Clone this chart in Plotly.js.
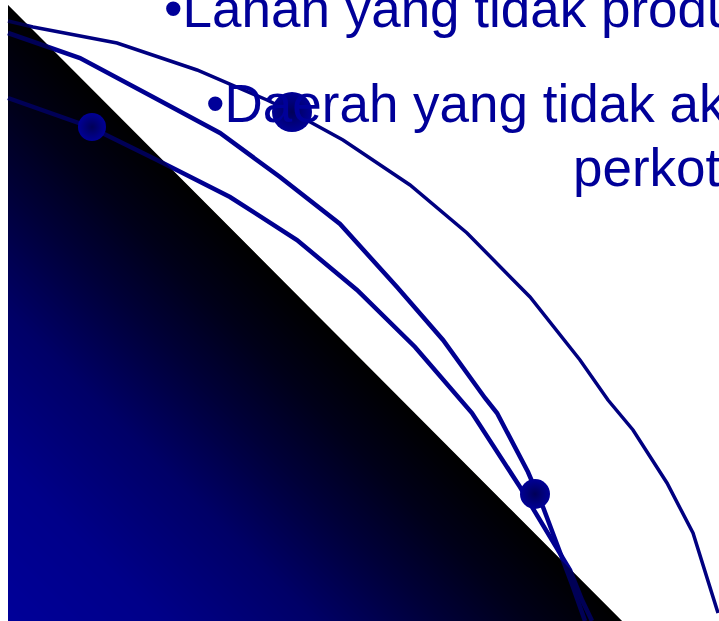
<!DOCTYPE html>
<html>
<head>
<meta charset="utf-8">
<script src="https://cdn.plot.ly/plotly-3.0.1.min.js"></script>
<style>html,body{margin:0;padding:0;background:#fff;overflow:hidden}#chart{width:719px;height:621px}</style>
</head>
<body>
<div id="chart"></div>
<script>
// Curves (x, y in picture units: y grows downward)
const curveAx = [8, 33, 117, 197, 267, 292, 343, 410, 467, 530, 580, 608, 633, 667, 693, 718];
const curveAy = [21, 27, 43, 70, 100, 112, 140, 185, 233, 297, 360, 400, 430, 483, 533, 613];
const curveBx = [8, 50, 80, 153, 220, 280, 340, 397, 443, 485, 497, 528, 543, 573, 585];
const curveBy = [33, 48, 58, 97, 133, 177, 224, 287, 340, 398, 413, 472, 507, 587, 621];
const curveCx = [8, 90, 157, 230, 297, 357, 415, 460, 472, 520, 540, 570, 582, 592];
const curveCy = [98, 127, 160, 197, 240, 290, 347, 398, 413, 487, 520, 570, 600, 621];
// Spheres
const ballX = [92, 292, 535];
const ballY = [127, 112, 494];
const ballD = [28, 40, 30];
// Triangle (gradient wedge)
const triX = [8, 622, 8];
const triY = [5, 621, 621];
// Texts
const texts = ["\u2022Lahan yang tidak produ", "\u2022Daerah yang tidak ak", "perkot"];
const textX = [162, 204, 571];
const textY = [8, 103, 167];

const W = 719, H = 621;
const navy = '#000090';

// mask: everything outside the triangle
const maskX = [0, W, W, triX[1], triX[0], triX[2], 0, 0];
const maskY = [0, 0, H, triY[1], triY[0], triY[2], H, 0];

const traces = [
  { type: 'heatmap', x: [triX[0], triX[1]], y: [triY[0], triY[2]],
    z: [[0, -1], [1, 0]], zmin: 0, zmax: 1, zsmooth: 'best', showscale: false, hoverinfo: 'skip',
    colorscale: [[0, 'rgb(0,0,0)'], [0.15, 'rgb(0,0,42)'], [0.3, 'rgb(0,0,95)'], [0.5, 'rgb(0,0,172)'], [0.75, 'rgb(0,0,228)'], [1, 'rgb(0,0,255)']] },
  { type: 'scatter', mode: 'lines', x: maskX, y: maskY, fill: 'toself', fillcolor: '#ffffff',
    line: { width: 0, color: 'rgba(0,0,0,0)' }, hoverinfo: 'skip' },
  { type: 'scatter', mode: 'lines', x: curveAx, y: curveAy, line: { color: '#000080', width: 3.5 } },
  { type: 'scatter', mode: 'lines', x: curveBx, y: curveBy, line: { color: navy, width: 4.5 } },
  { type: 'scatter', mode: 'lines', x: curveCx, y: curveCy, line: { color: navy, width: 4.5 } },
  { type: 'scatter', mode: 'lines', x: triX.concat([triX[0]]), y: triY.concat([triY[0]]), fill: 'toself',
    fillcolor: 'rgba(0,0,0,0.4)', line: { width: 0, color: 'rgba(0,0,0,0)' }, xaxis: 'x2', yaxis: 'y2', hoverinfo: 'skip' },
  { type: 'scatter', mode: 'markers', x: ballX, y: ballY, xaxis: 'x2', yaxis: 'y2',
    marker: { size: ballD, opacity: 1, color: '#000096', line: { width: 0 }, gradient: { type: 'radial', color: '#000058' } } }
];

const ax = { range: [0, W], visible: false, fixedrange: true };
const ay = { range: [H, 0], visible: false, fixedrange: true };
const layout = {
  width: W, height: H, margin: { l: 0, r: 0, t: 0, b: 0 },
  paper_bgcolor: '#ffffff', plot_bgcolor: '#ffffff', showlegend: false,
  xaxis: ax, yaxis: ay,
  xaxis2: Object.assign({}, ax, { overlaying: 'x' }),
  yaxis2: Object.assign({}, ay, { overlaying: 'y' }),
  annotations: texts.map((t, i) => ({
    text: t, x: textX[i], y: textY[i], xref: 'x', yref: 'y', xanchor: 'left', yanchor: 'middle',
    showarrow: false, font: { family: 'Liberation Sans, Arial, sans-serif', size: 53, color: '#000099' }
  }))
};
Plotly.newPlot('chart', traces, layout, { displayModeBar: false, staticPlot: true });
</script>
</body>
</html>
